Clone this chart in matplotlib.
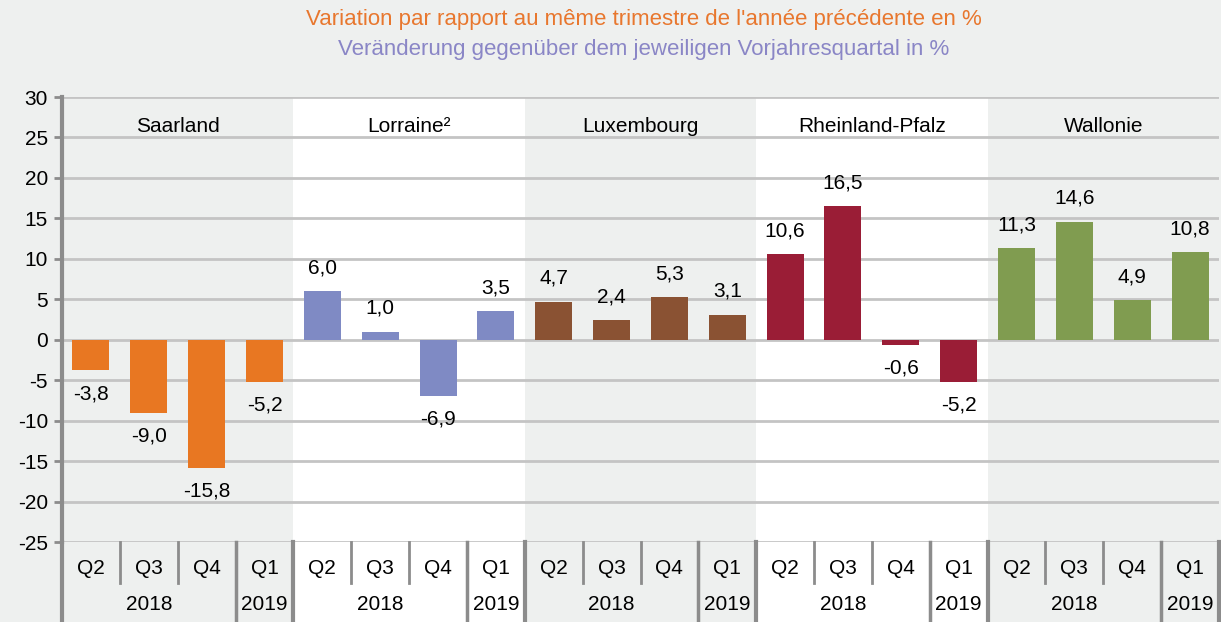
import matplotlib.pyplot as plt
import matplotlib.transforms as mtransforms

plt.rcParams['font.family'] = ['Liberation Sans Narrow', 'Liberation Sans', 'DejaVu Sans']
plt.rcParams['axes.unicode_minus'] = False

regions = ["Saarland", "Lorraine²", "Luxembourg", "Rheinland-Pfalz", "Wallonie"]
quarters = ["Q2", "Q3", "Q4", "Q1"]
years = ["2018", "2019"]
values = {
    "Saarland": [-3.8, -9.0, -15.8, -5.2],
    "Lorraine²": [6.0, 1.0, -6.9, 3.5],
    "Luxembourg": [4.7, 2.4, 5.3, 3.1],
    "Rheinland-Pfalz": [10.6, 16.5, -0.6, -5.2],
    "Wallonie": [11.3, 14.6, 4.9, 10.8],
}
colors = ["#E87722", "#7F8AC4", "#8A5233", "#9A1D36", "#809C50"]

bg = "#EEF0EF"
grid_col = "#C4C4C4"
axis_col = "#8C8C8C"

fig = plt.figure(figsize=(12.21, 6.22), dpi=100, facecolor=bg)
ax = fig.add_axes([62 / 1221, 80 / 622, 1157 / 1221, 445 / 622])
ax.set_facecolor("none")
ax.set_xlim(-0.5, 19.5)
ax.set_ylim(-25, 30)

trans = mtransforms.blended_transform_factory(ax.transData, ax.transAxes)
bottom = -80 / 445

# white bands for every second region, down through the table
for i in range(len(regions)):
    if i % 2 == 1:
        x0 = i * 4 - 0.5
        ax.add_patch(plt.Rectangle((x0, bottom), 4, 1 - bottom, transform=trans,
                                   facecolor="white", edgecolor="none", zorder=0, clip_on=False))

ax.set_yticks(range(-25, 31, 5))
ax.grid(axis="y", color=grid_col, linewidth=2, zorder=1)
ax.set_axisbelow(True)
for s in ["top", "right", "bottom"]:
    ax.spines[s].set_visible(False)
ax.spines["left"].set_color(axis_col)
ax.spines["left"].set_linewidth(3)
ax.spines["left"].set_bounds(-25, 30)
ax.tick_params(axis="y", length=6, width=2, color=axis_col, labelsize=15, pad=4)
ax.set_xticks([])

# left spine extension into table
ax.plot([-0.5, -0.5], [bottom, 0], transform=trans, color=axis_col, lw=3, clip_on=False)

for i, reg in enumerate(regions):
    xs = [i * 4 + j for j in range(4)]
    vals = values[reg]
    ax.bar(xs, vals, width=0.64, color=colors[i], zorder=3)
    for x, v in zip(xs, vals):
        lbl = f"{v:.1f}".replace(".", ",")
        if v >= 0:
            ax.text(x, v + 1.7, lbl, ha="center", va="bottom", fontsize=15, zorder=4)
        else:
            ax.text(x, v - 1.7, lbl, ha="center", va="top", fontsize=15, zorder=4)
    ax.text(i * 4 + 1.5, 26.4, reg, ha="center", va="center", fontsize=15)

    # table below the axis
    for j, q in enumerate(quarters):
        ax.text(i * 4 + j, -26 / 445, q, transform=trans, ha="center", va="center",
                fontsize=15, clip_on=False)
    ax.text(i * 4 + 1, -63 / 445, years[0], transform=trans, ha="center", va="center",
            fontsize=15, clip_on=False)
    ax.text(i * 4 + 3, -63 / 445, years[1], transform=trans, ha="center", va="center",
            fontsize=15, clip_on=False)
    for j in (0.5, 1.5):
        ax.plot([i * 4 + j] * 2, [-41 / 445, 0], transform=trans, color=axis_col, lw=2,
                clip_on=False)
    ax.plot([i * 4 + 2.5] * 2, [bottom, 0], transform=trans, color=axis_col, lw=2.5,
            clip_on=False)
    ax.plot([i * 4 + 3.5] * 2, [bottom, 0], transform=trans, color=axis_col, lw=3,
            clip_on=False)

fig.text(644 / 1221, 1 - 20 / 622, "Variation par rapport au même trimestre de l'année précédente en %",
         ha="center", va="center", fontsize=16, color="#E8772E")
fig.text(644 / 1221, 1 - 50 / 622, "Veränderung gegenüber dem jeweiligen Vorjahresquartal in %",
         ha="center", va="center", fontsize=16, color="#8A86C6")

fig.savefig("out.png", dpi=100, facecolor=bg)
